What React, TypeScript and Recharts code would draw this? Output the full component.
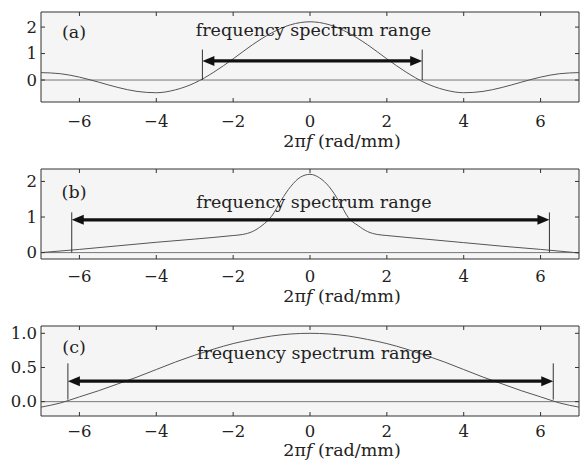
import { LineChart, Line, XAxis, YAxis, ReferenceArea, ReferenceLine, ReferenceDot, Label } from "recharts"

// (a) spectrum
const freqA = [-7, -6.5, -6, -5.5, -5, -4.5, -4, -3.5, -3, -2.5, -2, -1.5, -1, -0.5, 0, 0.5, 1, 1.5, 2, 2.5, 3, 3.5, 4, 4.5, 5, 5.5, 6, 6.5, 7]
const ampA = [0.28, 0.24, 0.11, -0.08, -0.28, -0.43, -0.48, -0.37, -0.11, 0.3, 0.8, 1.33, 1.78, 2.09, 2.2, 2.09, 1.78, 1.33, 0.8, 0.3, -0.11, -0.37, -0.48, -0.43, -0.28, -0.08, 0.11, 0.24, 0.28]

// (b) spectrum
const freqB = [-7, -6, -5, -4, -3, -2, -1.75, -1.5, -1.25, -1, -0.75, -0.5, -0.25, 0, 0.25, 0.5, 0.75, 1, 1.25, 1.5, 1.75, 2, 3, 4, 5, 6, 7]
const ampB = [0.0, 0.09, 0.19, 0.29, 0.38, 0.48, 0.51, 0.59, 0.76, 1.02, 1.47, 1.86, 2.12, 2.2, 2.1, 1.85, 1.45, 0.98, 0.76, 0.59, 0.51, 0.48, 0.38, 0.28, 0.18, 0.09, -0.01]

// (c) spectrum
const freqC = [-7, -6.5, -6, -5.5, -5, -4.5, -4, -3.5, -3, -2.5, -2, -1.5, -1, -0.5, 0, 0.5, 1, 1.5, 2, 2.5, 3, 3.5, 4, 4.5, 5, 5.5, 6, 6.5, 7]
const ampC = [-0.08, -0.02, 0.07, 0.16, 0.26, 0.36, 0.47, 0.58, 0.68, 0.77, 0.85, 0.91, 0.96, 0.99, 1.0, 0.99, 0.96, 0.91, 0.85, 0.77, 0.68, 0.58, 0.47, 0.36, 0.26, 0.16, 0.07, -0.02, -0.08]

const xTicks = [-6, -4, -2, 0, 2, 4, 6]
const yTicksAB = [0, 1, 2]
const yTicksC = [0, 0.5, 1.0]

// frequency spectrum range markers: [left, right], arrow height, vertical bar extent
const rangeA = [-2.8, 2.92]
const rangeB = [-6.2, 6.23]
const rangeC = [-6.3, 6.33]
const arrowY = [0.72, 0.92, 0.3]
const barA = [0, 1.15]
const barB = [0, 1.13]
const barC = [0.03, 0.56]

const rangeText = "frequency spectrum range"
const letters = ["(a)", "(b)", "(c)"]

const FONT = "DejaVu Serif"
const W = 581
const PLOT_LEFT = 41
const PLOT_RIGHT = 579
const PLOT_H = 90

const fmtInt = (v: number) => (v < 0 ? "\u2212" + Math.abs(v) : String(v))
const fmtDec = (v: number) => v.toFixed(1)

function Arrow(props: any) {
  const { x1, y1, x2 } = props
  const head = 12
  const half = 5
  const l = Math.min(x1, x2)
  const r = Math.max(x1, x2)
  return (
    <g>
      <line x1={l + head - 1} y1={y1} x2={r - head + 1} y2={y1} stroke="#111" strokeWidth={3.2} />
      <polygon points={`${l},${y1} ${l + head},${y1 - half} ${l + head},${y1 + half}`} fill="#111" />
      <polygon points={`${r},${y1} ${r - head},${y1 - half} ${r - head},${y1 + half}`} fill="#111" />
    </g>
  )
}

interface PanelProps {
  freq: number[]
  amp: number[]
  yDomain: [number, number]
  yTicks: number[]
  fmt: (v: number) => string
  range: number[]
  arrow: number
  bar: number[]
  textAt: [number, number]
  letter: string
  letterAt: [number, number]
  top: number
  height: number
  marginTop: number
  tickOffset: number
  titleOffset: number
}

function Panel(p: PanelProps) {
  const data = p.freq.map((f, i) => ({ f, v: p.amp[i] }))
  const plotTop = p.marginTop
  const plotBottom = p.marginTop + PLOT_H

  const xTick = ({ x, payload }: any) => (
    <g>
      <line x1={x} x2={x} y1={plotBottom} y2={plotBottom - 4} stroke="#333" />
      <line x1={x} x2={x} y1={plotTop} y2={plotTop + 4} stroke="#333" />
      <text x={x} y={plotBottom + p.tickOffset} textAnchor="middle" dominantBaseline="central"
        fontFamily={FONT} fontSize={16.5} fill="#222">{fmtInt(payload.value)}</text>
    </g>
  )

  const yTick = ({ y, payload }: any) => (
    <g>
      <line x1={PLOT_LEFT} x2={PLOT_LEFT + 4} y1={y} y2={y} stroke="#333" />
      <line x1={PLOT_RIGHT} x2={PLOT_RIGHT - 4} y1={y} y2={y} stroke="#333" />
      <text x={PLOT_LEFT - 4} y={y} textAnchor="end" dominantBaseline="central"
        fontFamily={FONT} fontSize={16.5} fill="#222">{p.fmt(payload.value)}</text>
    </g>
  )

  return (
    <div style={{ position: "absolute", left: 0, top: p.top }}>
      <LineChart width={W} height={p.height} data={data}
        margin={{ top: p.marginTop, right: W - PLOT_RIGHT, bottom: 0, left: 0 }}>
        <XAxis dataKey="f" type="number" domain={[-7, 7]} ticks={xTicks} allowDataOverflow
          axisLine={false} tickLine={false} tick={xTick} height={p.height - PLOT_H - p.marginTop}>
          <Label content={() => (
            <text x={342} y={plotBottom + p.titleOffset} textAnchor="middle" dominantBaseline="central"
              fontFamily={FONT} fontSize={17.5} fill="#222">
              2π<tspan fontStyle="italic">f</tspan> (rad/mm)
            </text>
          )} />
        </XAxis>
        <YAxis type="number" domain={p.yDomain} ticks={p.yTicks} allowDataOverflow
          axisLine={false} tickLine={false} tick={yTick} width={PLOT_LEFT} />
        <ReferenceArea x1={-7} x2={7} y1={p.yDomain[0]} y2={p.yDomain[1]}
          fill="#f5f5f5" fillOpacity={1} stroke="#333" strokeWidth={1} />
        <ReferenceLine y={0} stroke="#777" strokeWidth={1} />
        <Line dataKey="v" type="monotone" stroke="#555" strokeWidth={1} dot={false} isAnimationActive={false} />
        <ReferenceLine segment={[{ x: p.range[0], y: p.bar[0] }, { x: p.range[0], y: p.bar[1] }]} stroke="#333" />
        <ReferenceLine segment={[{ x: p.range[1], y: p.bar[0] }, { x: p.range[1], y: p.bar[1] }]} stroke="#333" />
        <ReferenceLine segment={[{ x: p.range[0], y: p.arrow }, { x: p.range[1], y: p.arrow }]} shape={<Arrow />} />
        <ReferenceDot x={p.textAt[0]} y={p.textAt[1]} r={0} shape={(s: any) => (
          <text x={s.cx} y={s.cy} textAnchor="middle" dominantBaseline="central"
            fontFamily={FONT} fontSize={17.5} fill="#222">{rangeText}</text>
        )} />
        <ReferenceDot x={p.letterAt[0]} y={p.letterAt[1]} r={0} shape={(s: any) => (
          <text x={s.cx} y={s.cy} textAnchor="middle" dominantBaseline="central"
            fontFamily={FONT} fontSize={17.5} fill="#222">{p.letter}</text>
        )} />
      </LineChart>
    </div>
  )
}

export default function App() {
  return (
    <div style={{ position: "absolute", left: 0, top: 0, width: W, height: 466, background: "#fff" }}>
      <Panel freq={freqA} amp={ampA} yDomain={[-0.83, 2.57]} yTicks={yTicksAB} fmt={fmtInt}
        range={rangeA} arrow={arrowY[0]} bar={barA} textAt={[0.09, 1.89]}
        letter={letters[0]} letterAt={[-6.14, 1.81]}
        top={0} height={155} marginTop={12} tickOffset={19} titleOffset={39} />
      <Panel freq={freqB} amp={ampB} yDomain={[-0.18, 2.35]} yTicks={yTicksAB} fmt={fmtInt}
        range={rangeB} arrow={arrowY[1]} bar={barB} textAt={[0.1, 1.43]}
        letter={letters[1]} letterAt={[-6.14, 1.71]}
        top={155} height={155} marginTop={14} tickOffset={17.5} titleOffset={37} />
      <Panel freq={freqC} amp={ampC} yDomain={[-0.21, 1.107]} yTicks={yTicksC} fmt={fmtDec}
        range={rangeC} arrow={arrowY[2]} bar={barC} textAt={[0.12, 0.71]}
        letter={letters[2]} letterAt={[-6.14, 0.8]}
        top={310} height={156} marginTop={16} tickOffset={15} titleOffset={34} />
    </div>
  )
}
